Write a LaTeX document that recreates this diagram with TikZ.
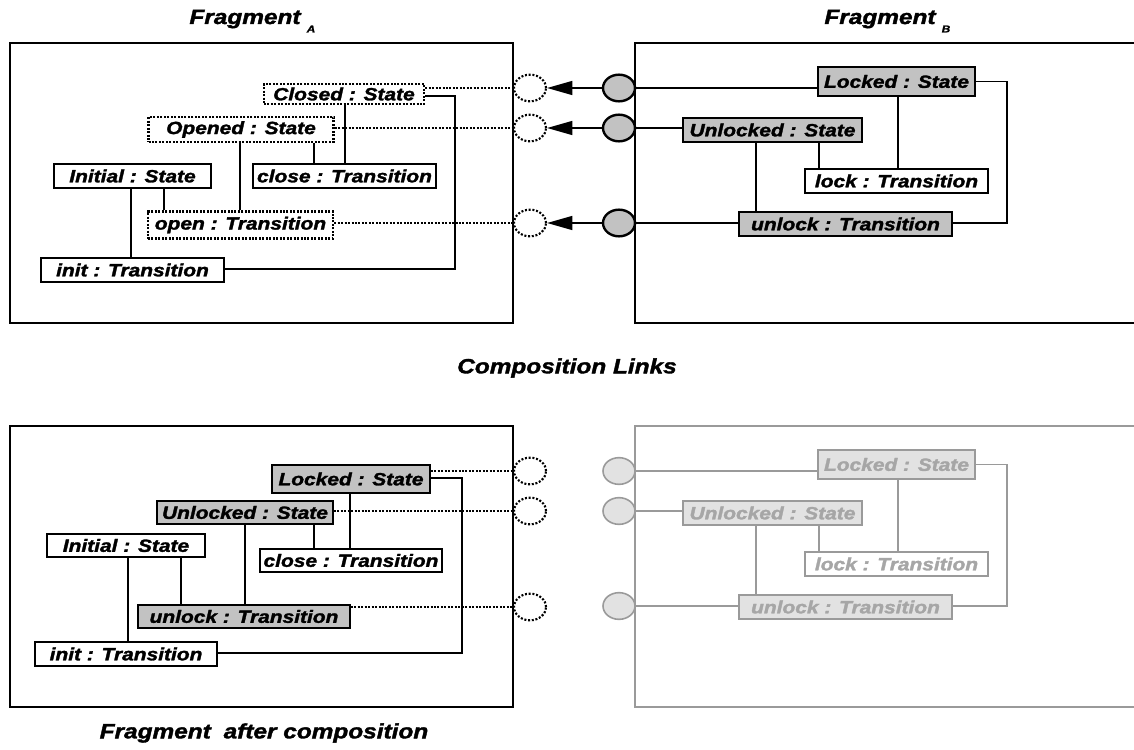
\documentclass[tikz,border=0pt]{standalone}
\usepackage{fontspec}
\setmainfont{Liberation Sans}[BoldItalicFeatures={FakeBold=1.6}]
\usetikzlibrary{shapes.geometric,arrows.meta}

% labels are set in a slightly widened bold italic sans
\newcommand\wide[1]{\scalebox{1.18}[1]{#1}}

\definecolor{objgray}{HTML}{C2C2C2}
\definecolor{ghostline}{HTML}{9A9A9A}
\definecolor{ghosttext}{HTML}{A6A6A6}
\definecolor{ghostfill}{HTML}{E2E2E2}

\tikzset{
  px/.style 2 args={minimum width=#1*0.75pt, minimum height=#2*0.75pt},
  obj/.style={draw, line width=1.2pt, inner sep=0pt, fill=white,
    font=\fontsize{13.3}{15}\selectfont\bfseries\itshape},
  grayobj/.style={obj, fill=objgray},
  dotobj/.style={obj, dash pattern=on 1.5pt off 1.1pt, line width=1.8pt},
  ghostobj/.style={obj, draw=ghostline, text=ghosttext, line width=1.1pt},
  ghostgray/.style={ghostobj, fill=ghostfill},
  frame/.style={draw, line width=2.2pt},
  ghostframe/.style={draw=ghostline, line width=1.6pt},
  conn/.style={draw, line width=1pt},
  strongconn/.style={draw, line width=1.6pt},
  ghostconn/.style={draw=ghostline, line width=1pt},
  dotline/.style={draw, line width=1.8pt, dash pattern=on 1.5pt off 1.1pt},
  port/.style={ellipse, inner sep=0pt, minimum width=24pt, minimum height=20pt},
  openport/.style={port, draw, line width=1.6pt, dash pattern=on 1.5pt off 1.3pt},
  fullport/.style={port, draw, fill=objgray, line width=1.8pt},
  ghostport/.style={port, draw=ghostline, fill=ghostfill, line width=1.2pt},
  linkarrow/.style={draw, line width=1.1pt, -{Triangle[length=19pt, width=10.5pt]}},
  title/.style={inner sep=0pt, font=\fontsize{15.5}{18}\selectfont\bfseries\itshape},
  subtitle/.style={inner sep=0pt, font=\fontsize{7.5}{8}\selectfont\bfseries\itshape},
}

\begin{document}
\begin{tikzpicture}[x=0.75pt, y=-0.75pt]
\useasboundingbox (0,0) rectangle (1134,749);
\clip (0,0) rectangle (1134,749);

% ---------- titles ----------
\node[title, anchor=base] (titleA) at (245,24) {\wide{Fragment}};
\node[subtitle] (subA) at (311,29) {\wide{A}};
\node[title, anchor=base] (titleB) at (880,24) {\wide{Fragment}};
\node[subtitle] (subB) at (946,29) {\wide{B}};
\node[title] (links) at (567,368) {\wide{Composition Links}};
\node[title] (result) at (264,733) {\wide{Fragment\hspace{0.25em} after composition}};

% ---------- fragment frames ----------
\draw[frame] (10,43) rectangle (513,323);
\draw[frame] (635,43) rectangle (1150,323);
\draw[frame] (10,426) rectangle (513,707);
\draw[ghostframe] (635,426) rectangle (1150,707);

% ---------- fragment A ----------
\node[dotobj, px={160}{20}] (closedA) at (344,94) {\wide{Closed : State}};
\node[dotobj, px={185}{25}] (openedA) at (241,129.5) {\wide{Opened : State}};
\node[obj, px={157}{24}] (initialA) at (132.5,176) {\wide{Initial : State}};
\node[obj, px={183}{24}] (closeA) at (344.5,176) {\wide{close : Transition}};
\node[dotobj, px={185}{27}] (openA) at (240.5,225) {\wide{open : Transition}};
\node[obj, px={183}{24}] (initA) at (132.5,270) {\wide{init : Transition}};

\draw[conn] (closedA.south -| 345,0) -- (closeA.north -| 345,0);
\draw[conn] (openedA.south -| 314,0) -- (closeA.north -| 314,0);
\draw[conn] (openedA.south -| 240,0) -- (openA.north -| 240,0);
\draw[conn] (initialA.south -| 164,0) -- (openA.north -| 164,0);
\draw[conn] (initialA.south -| 131,0) -- (initA.north -| 131,0);
\draw[conn] (closedA.east |- 0,96) -| (455,269) -- (initA.east |- 0,269);

% ---------- fragment B ----------
\node[grayobj, px={157}{29}] (lockedB) at (896.5,81.5) {\wide{Locked : State}};
\node[grayobj, px={179}{24}] (unlockedB) at (772.5,130) {\wide{Unlocked : State}};
\node[obj, px={183}{24}] (lockB) at (896.5,181) {\wide{lock : Transition}};
\node[grayobj, px={213}{24}] (unlockB) at (845.5,224) {\wide{unlock : Transition}};

\draw[conn] (lockedB.south -| 898,0) -- (lockB.north -| 898,0);
\draw[conn] (unlockedB.south -| 819,0) -- (lockB.north -| 819,0);
\draw[conn] (unlockedB.south -| 756,0) -- (unlockB.north -| 756,0);
\draw[conn] (lockedB.east) -| (1007,223) -- (unlockB.east |- 0,223);

% ---------- composition links ----------
\node[openport] (d1) at (530,88) {};
\node[openport] (d2) at (530,128) {};
\node[openport] (d3) at (530,223) {};
\node[fullport] (g1) at (619,88) {};
\node[fullport] (g2) at (619,128) {};
\node[fullport] (g3) at (619,223) {};

\draw[dotline] (closedA.east |- d1) -- (d1.west);
\draw[dotline] (openedA.east |- d2) -- (d2.west);
\draw[dotline] (openA.east |- d3) -- (d3.west);

\draw[linkarrow] (g1.west) -- (d1.east);
\draw[linkarrow] (g2.west) -- (d2.east);
\draw[linkarrow] (g3.west) -- (d3.east);

\draw[strongconn] (g1.east) -- (lockedB.west |- g1);
\draw[strongconn] (g2.east) -- (unlockedB.west |- g2);
\draw[conn] (g3.east) -- (unlockB.west |- g3);

% ---------- composed fragment ----------
\node[grayobj, px={158}{28}] (lockedC) at (351,479) {\wide{Locked : State}};
\node[grayobj, px={176}{23}] (unlockedC) at (245,512.5) {\wide{Unlocked : State}};
\node[obj, px={158}{23}] (initialC) at (126,545.5) {\wide{Initial : State}};
\node[obj, px={182}{23}] (closeC) at (351,560.5) {\wide{close : Transition}};
\node[grayobj, px={212}{23}] (unlockC) at (244,616.5) {\wide{unlock : Transition}};
\node[obj, px={182}{24}] (initC) at (126,654) {\wide{init : Transition}};

\draw[conn] (lockedC.south -| 350,0) -- (closeC.north -| 350,0);
\draw[conn] (unlockedC.south -| 314,0) -- (closeC.north -| 314,0);
\draw[conn] (unlockedC.south -| 245,0) -- (unlockC.north -| 245,0);
\draw[conn] (initialC.south -| 181,0) -- (unlockC.north -| 181,0);
\draw[conn] (initialC.south -| 128,0) -- (initC.north -| 128,0);
\draw[conn] (lockedC.east |- 0,478) -| (462,653) -- (initC.east |- 0,653);

\node[openport] (e1) at (530,471) {};
\node[openport] (e2) at (530,511) {};
\node[openport] (e3) at (530,607) {};

\draw[dotline] (lockedC.east |- e1) -- (e1.west);
\draw[dotline] (unlockedC.east |- e2) -- (e2.west);
\draw[dotline] (unlockC.east |- e3) -- (e3.west);

% ---------- fragment B, faded after composition ----------
\node[ghostgray, px={157}{29}] (lockedD) at (896.5,464.5) {\wide{Locked : State}};
\node[ghostgray, px={179}{24}] (unlockedD) at (772.5,513) {\wide{Unlocked : State}};
\node[ghostobj, px={183}{24}] (lockD) at (896.5,564) {\wide{lock : Transition}};
\node[ghostgray, px={213}{24}] (unlockD) at (845.5,607) {\wide{unlock : Transition}};

\node[ghostport] (h1) at (619,471) {};
\node[ghostport] (h2) at (619,511) {};
\node[ghostport] (h3) at (619,606) {};

\draw[ghostconn] (h1.east) -- (lockedD.west |- h1);
\draw[ghostconn] (h2.east) -- (unlockedD.west |- h2);
\draw[ghostconn] (h3.east) -- (unlockD.west |- h3);
\draw[ghostconn] (lockedD.south -| 898,0) -- (lockD.north -| 898,0);
\draw[ghostconn] (unlockedD.south -| 819,0) -- (lockD.north -| 819,0);
\draw[ghostconn] (unlockedD.south -| 756,0) -- (unlockD.north -| 756,0);
\draw[ghostconn] (lockedD.east) -| (1007,606) -- (unlockD.east |- 0,606);
\end{tikzpicture}
\end{document}
